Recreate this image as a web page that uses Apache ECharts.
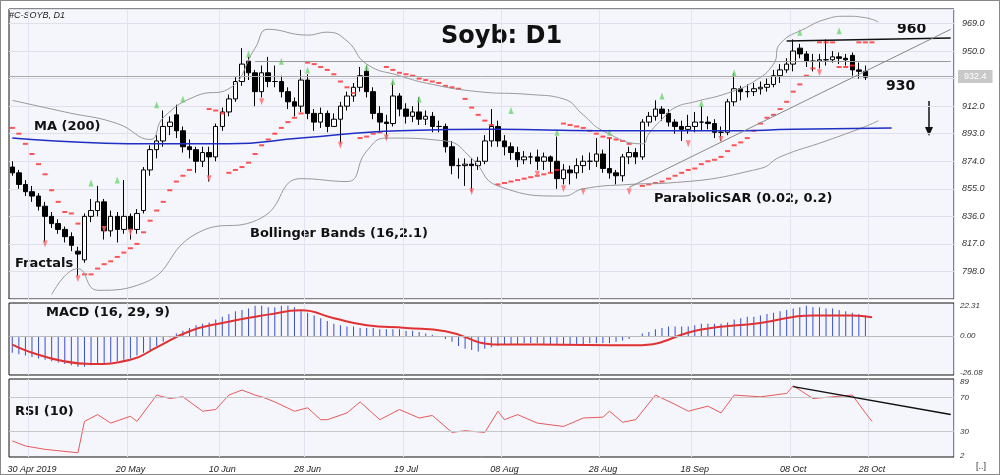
<!DOCTYPE html>
<html>
<head>
<meta charset="utf-8">
<script src="https://cdn.jsdelivr.net/npm/echarts@6/dist/echarts.min.js"></script>
<style>html,body{margin:0;padding:0;background:#fff}#c{width:1000px;height:475px;box-sizing:border-box;border:1px solid #888}</style>
</head>
<body>
<div id="c"></div>
<script>
// daily bars
var opens = [870,866,858,853,850,843,836,831,827,822, 812,806,836,840,846,826,836,827,836,827,
  840,868,882,888,898,906,895,884,882,874, 880,877,898,908,917,929,943,935,922,935,
  929,929,922,915,912,930,907,901,907,898, 903,912,919,925,936,922,907,901,900,919,
  910,905,908,903,905,898,898,884,871,871, 872,871,874,888,898,888,884,880,875,877,
  877,874,877,874,862,868,866,871,874,874, 879,869,866,864,877,880,877,901,905,910,
  907,901,898,896,898,901,901,900,894,894, 915,924,922,922,924,925,927,933,937,941,
  952,948,943,943,944,944,946,945,947,937, 936];
var closes = [866,858,853,850,843,836,831,827,822,816, 810,836,840,846,826,836,827,836,827,838,
  868,882,888,898,901,895,884,882,874,880, 877,898,908,917,929,941,935,922,935,929,
  929,922,915,912,930,907,901,907,898,903, 912,919,925,933,922,907,901,900,919,910,
  905,908,903,905,898,898,884,871,871,872, 871,874,888,898,888,884,880,875,877,877,
  874,877,874,862,868,866,871,874,874,879, 869,866,864,877,880,877,901,905,910,907,
  901,898,896,898,901,901,900,894,894,915, 924,922,922,924,925,927,933,937,941,950,
  948,943,943,944,944,946,945,944,937,936, 932];
var highs = [874,868,861,857,852,846,839,834,829,825, 815,838,848,857,848,840,839,861,838,841,
  870,885,892,909,905,913,898,889,884,884, 884,900,911,920,932,952,946,937,940,946,
  940,933,925,918,937,934,910,911,909,907, 915,922,928,939,940,925,912,906,929,921,
  914,912,918,909,908,902,900,888,876,876, 876,877,892,910,902,892,887,884,881,880,
  882,880,878,891,872,871,876,878,880,890, 882,890,868,879,884,883,903,908,916,912,
  910,903,902,906,908,912,905,903,898,917, 935,926,927,928,929,931,937,941,945,958,
  955,950,948,948,958,950,949,948,949,942, 940];
var lows = [864,855,850,846,840,818,828,824,818,812, 795,804,832,836,820,822,818,824,820,824,
  838,864,876,884,892,890,880,876,866,870, 860,874,895,905,915,926,930,912,918,925,
  925,918,910,905,908,903,895,897,894,898, 886,909,915,922,918,903,895,889,898,905,
  900,901,899,899,894,894,880,865,862,857, 853,868,872,884,884,878,875,870,872,872,
  868,868,866,855,858,858,862,866,868,870, 866,862,858,860,872,872,875,898,902,902,
  898,893,888,893,894,895,896,890,888,892, 912,916,918,919,920,922,925,928,935,936,
  945,939,936,938,940,942,941,940,933,931, 930];

var dateLabels = {3:'30 Apr 2019',18:'20 May',32:'10 Jun',45:'28 Jun',60:'19 Jul',75:'08 Aug',
  90:'28 Aug',104:'18 Sep',119:'08 Oct',131:'28 Oct'};
var slots = 144;

var ma200 = [[0,890],[21,886],[33,886],[44,890],[59,895],[74,896],[89,895],[109,895],[119,896],[134,897]];
var bbUpper = [[0,916],[8,908],[16,900],[21,889],[23,904],[28,919],[33,924],[37,952],[39,965],[45,961],
  [48,963],[51,957],[54,941],[59,933],[64,927],[71,922],[79,920],[84,917],[87,906],[90,895],[96,886],
  [97,893],[99,903],[101,911],[104,915],[109,921],[113,929],[116,941],[117,955],[121,966],[124,972],
  [127,974],[130,973],[132,970]];
var bbLower = [[6,782],[10,800],[13,785],[20,790],[28,824],[38,835],[44,862],[51,860],[54,881],[57,890],
  [66,888],[70,876],[74,857],[84,850],[87,855],[94,858],[100,859],[114,869],[117,877],[124,888],
  [130,898],[132,902]];
var sar = [[0,897],[1,893],[2,886],[3,879],[4,872],[5,865],[6,854],[7,846],[8,839],[9,838],[10,831],
  [11,796],[12,796],[13,800],[14,803],[15,805],[16,808],[17,811],[18,814],[19,817],[20,825],[21,833],
  [22,840],[23,846],[24,854],[25,860],[26,864],[27,868],[30,910],[31,909],[32,907],
  [33,866],[34,868],[35,870],[36,873],[37,879],[38,885],[39,889],[40,893],[41,897],[42,901],[43,904],[44,907],
  [45,942],[46,941],[47,939],[48,937],[49,934],[50,929],[51,925],[52,921],
  [53,890],[54,891],[55,893],[56,894],
  [57,939],[58,937],[59,935],[60,934],[61,933],[62,931],[63,930],[64,929],[65,928],[66,926],[67,925],
  [68,924],[69,917],[70,911],[71,906],[72,902],[73,899],
  [74,858],[75,859],[76,860],[77,861],[78,862],[79,863],[80,864],[81,865],[82,866],[83,868],
  [84,900],[85,899],[86,898],[87,897],[88,895],[89,893],[90,891],[91,890],[92,889],[93,888],[94,886],
  [96,857],[97,858],[98,859],[99,860],[100,862],[101,864],[102,866],[103,868],[104,869],[105,872],
  [106,874],[107,875],[108,877],[109,881],[110,885],[111,887],[112,890],[113,895],[114,900],[115,904],
  [116,906],[117,910],[118,915],[119,922],[120,927],[121,933],[122,938],
  [123,956],[124,956],[125,956],[126,939],[127,939],[128,940],[129,956],[130,956],[131,956]];
var fractalUp = [[12,859],[16,861],[22,913],[26,917],[36,948],[41,943],[45,937],[54,939],[58,929],
  [62,917],[76,909],[83,894],[91,894],[99,919],[105,914],[110,935],[120,963],[126,964]];
var fractalDown = [[5,817],[10,793],[14,827],[18,825],[30,862],[38,915],[50,885],[57,890],[70,853],
  [80,865],[84,855],[87,853],[94,853],[103,886],[108,889],[123,935]];

var macdHist = [-12,-13,-14,-15,-16,-17,-18,-19,-20,-21, -22,-22,-21,-20,-20,-19,-18,-17,-16,-14,
  -12,-10,-7,-4,-1,2,4,6,8,9, 10,12,14,16,18,19,20,22,22,21,
  21,22,22,21,19,17,15,13,11,9, 8,7,7,6,6,6,5,5,5,5,
  4,4,3,2,1,0,-2,-4,-7,-9, -10,-11,-9,-8,-7,-6,-6,-6,-5,-5,
  -5,-6,-6,-6,-6,-6,-6,-6,-5,-5, -5,-5,-4,-3,-2,0,2,3,5,6,
  7,7,7,7,8,9,9,9,9,10, 12,13,14,14,15,16,17,18,19,20,
  21,22,21,21,20,20,19,18,17,16, 15];
var macdSignal = [[0,-6],[12,-20],[18,-17],[22,-8],[27,3.6],[32,9.6],[39,15.6],[44,18.7],[49,13],
  [54,8],[60,6],[66,3.6],[74,-6],[80,-6],[95,-6.5],[105,4.8],[114,9.6],[122,15],[128,15],[131,13.7]];
var rsi = [[0,19],[2,13],[5,9],[10,5],[11,42],[13,50],[15,40],[18,48],[19,42],[22,73],[24,69],[26,71],
  [29,54],[31,56],[33,73],[35,79],[37,73],[38,71],[40,65],[43,54],[45,58],[47,44],[48,44],[51,52],
  [53,65],[56,44],[59,56],[62,46],[64,49],[67,29],[69,31],[72,29],[74,54],[75,44],[77,50],[80,40],
  [84,36],[87,46],[90,47],[91,54],[93,41],[95,44],[98,73],[101,62],[103,54],[106,60],[108,52],
  [110,73],[114,71],[118,75],[119,84],[122,69],[128,73],[130,52],[131,42]];

var cats = [], candles = [];
for (var i = 0; i < slots; i++) cats.push(i);
for (var j = 0; j < closes.length; j++) candles.push([opens[j], closes[j], lows[j], highs[j]]);

function showDate(idx) { return dateLabels[idx] !== undefined; }
function xAxisFor(gi, labels) {
  return {
    type: 'category', gridIndex: gi, data: cats, boundaryGap: true,
    axisLine: { show: false }, axisTick: { show: false },
    axisLabel: { show: labels, interval: function(idx) { return showDate(idx); },
      formatter: function(v) { return dateLabels[v] || ''; },
      fontSize: 9, fontStyle: 'italic', color: '#222', margin: 8 },
    splitLine: { show: true, interval: function(idx) { return showDate(idx); },
      lineStyle: { color: '#e2e2f0' } }
  };
}
var hide = { show: false };
var clear = { color: 'rgba(0,0,0,0)', width: 1, type: 'solid' };
var paneLabel = { show: true, position: 'end', fontSize: 8, fontStyle: 'italic', color: '#333', distance: 6 };

var chart = echarts.init(document.getElementById('c'));
chart.setOption({
  animation: false,
  backgroundColor: '#fff',
  grid: [
    { left: 8, right: 45, top: 8, height: 290, show: true, backgroundColor: '#f5f5fc', borderColor: '#111' },
    { left: 8, right: 45, top: 302, height: 72, show: true, backgroundColor: '#f5f5fc', borderColor: '#111' },
    { left: 8, right: 45, top: 378, height: 78, show: true, backgroundColor: '#f5f5fc', borderColor: '#111' }
  ],
  xAxis: [xAxisFor(0, false), xAxisFor(1, false), xAxisFor(2, true)],
  yAxis: [
    { gridIndex: 0, position: 'right', min: 779, max: 979, interval: 19, scale: true,
      axisLine: hide, axisTick: hide,
      axisLabel: { fontSize: 9, fontStyle: 'italic', color: '#333', showMaxLabel: false,
        formatter: function(v) { return (v === 779 || v === 979) ? '' : v.toFixed(1); } },
      splitLine: { lineStyle: { color: '#dedeec' } } },
    { gridIndex: 1, position: 'right', min: -28, max: 24,
      axisLine: hide, axisTick: hide, axisLabel: hide, splitLine: hide },
    { gridIndex: 2, position: 'right', min: 0, max: 92,
      axisLine: hide, axisTick: hide, axisLabel: hide, splitLine: hide }
  ],
  series: [
    { type: 'line', name: 'BBupper', data: bbUpper, smooth: true, symbol: 'none',
      lineStyle: { color: '#999', width: 1 } },
    { type: 'line', name: 'BBlower', data: bbLower, smooth: true, symbol: 'none',
      lineStyle: { color: '#999', width: 1 } },
    { type: 'line', name: 'MA200', data: ma200, smooth: true, symbol: 'none',
      lineStyle: { color: '#1f2fc4', width: 1.5 } },
    { type: 'candlestick', name: 'price', data: candles, barWidth: 5,
      itemStyle: { color: '#fff', color0: '#000', borderColor: '#000', borderColor0: '#000', borderWidth: 1 },
      markLine: { silent: true, symbol: 'none', animation: false,
        data: [
          { yAxis: 932.4, lineStyle: { color: '#aaa', width: 1, type: 'solid' },
            label: { position: 'end', formatter: '932.4', backgroundColor: '#c8c8c8', color: '#fff',
              padding: [2, 6], fontSize: 9, distance: 4 } },
          [{ coord: [37, 943], lineStyle: { color: '#999', width: 1, type: 'solid' }, label: hide },
           { coord: [143, 943] }],
          [{ coord: [118, 957], lineStyle: { color: '#111', width: 1.5, type: 'solid' }, label: hide },
           { coord: [143, 959] }],
          [{ coord: [94, 856], lineStyle: { color: '#888', width: 1, type: 'solid' }, label: hide },
           { coord: [143, 965] }]
        ] } },
    { type: 'scatter', name: 'SAR', data: sar, symbol: 'rect', symbolSize: [5, 2],
      itemStyle: { color: '#ff2a2a' } },
    { type: 'scatter', name: 'FractalUp', data: fractalUp, symbol: 'triangle', symbolSize: [5, 7],
      itemStyle: { color: '#6bd66b' } },
    { type: 'scatter', name: 'FractalDown', data: fractalDown, symbol: 'triangle', symbolSize: [5, 7],
      symbolRotate: 180, itemStyle: { color: '#ff6a6a' } },
    { type: 'bar', name: 'MACD', xAxisIndex: 1, yAxisIndex: 1, data: macdHist, barWidth: 1,
      itemStyle: { color: '#3a4fd0' },
      markLine: { silent: true, symbol: 'none', label: paneLabel,
        data: [
          { yAxis: 22.31, lineStyle: clear, label: { formatter: '22.31' } },
          { yAxis: 0, lineStyle: { color: '#bbb', type: 'solid', width: 1 }, label: { formatter: '0.00' } },
          { yAxis: -26.08, lineStyle: clear, label: { formatter: '-26.08' } }
        ] } },
    { type: 'line', name: 'Signal', xAxisIndex: 1, yAxisIndex: 1, data: macdSignal, smooth: true,
      symbol: 'none', lineStyle: { color: '#e03232', width: 2 } },
    { type: 'line', name: 'RSI', xAxisIndex: 2, yAxisIndex: 2, data: rsi, symbol: 'none',
      lineStyle: { color: '#e85a5a', width: 1 },
      markLine: { silent: true, symbol: 'none', label: paneLabel,
        data: [
          { yAxis: 89, lineStyle: clear, label: { formatter: '89' } },
          { yAxis: 70, lineStyle: { color: '#c8c8c8', type: 'solid', width: 1 }, label: { formatter: '70' } },
          { yAxis: 30, lineStyle: { color: '#c8c8c8', type: 'solid', width: 1 }, label: { formatter: '30' } },
          { yAxis: 2, lineStyle: clear, label: { formatter: '2' } },
          [{ coord: [119, 83], lineStyle: { color: '#111', width: 1.5, type: 'solid' }, label: hide },
           { coord: [143, 50] }]
        ] } }
  ],
  graphic: [
    { type: 'text', left: 8, top: 10, style: { text: '#C-SOYB, D1', fontSize: 9, fontStyle: 'italic', fill: '#222' } },
    { type: 'text', left: 440, top: 24, style: { text: 'Soyb: D1', fontSize: 24, fontWeight: 'bold', fill: '#111', fontFamily: 'Verdana, DejaVu Sans' } },
    { type: 'text', left: 33, top: 119, style: { text: 'MA (200)', fontSize: 13, fontWeight: 'bold', fill: '#111', fontFamily: 'DejaVu Sans' } },
    { type: 'text', left: 14, top: 256, style: { text: 'Fractals', fontSize: 13, fontWeight: 'bold', fill: '#111', fontFamily: 'DejaVu Sans' } },
    { type: 'text', left: 249, top: 226, style: { text: 'Bollinger Bands (16,2.1)', fontSize: 13, fontWeight: 'bold', fill: '#111', fontFamily: 'DejaVu Sans' } },
    { type: 'text', left: 653, top: 191, style: { text: 'ParabolicSAR (0.02, 0.2)', fontSize: 13, fontWeight: 'bold', fill: '#111', fontFamily: 'DejaVu Sans' } },
    { type: 'text', left: 896, top: 21, style: { text: '960', fontSize: 14, fontWeight: 'bold', fill: '#111', fontFamily: 'DejaVu Sans' } },
    { type: 'text', left: 885, top: 78, style: { text: '930', fontSize: 14, fontWeight: 'bold', fill: '#111', fontFamily: 'DejaVu Sans' } },
    { type: 'text', left: 45, top: 305, style: { text: 'MACD (16, 29, 9)', fontSize: 13, fontWeight: 'bold', fill: '#111', fontFamily: 'DejaVu Sans' } },
    { type: 'text', left: 14, top: 404, style: { text: 'RSI (10)', fontSize: 13, fontWeight: 'bold', fill: '#111', fontFamily: 'DejaVu Sans' } },
    { type: 'line', shape: { x1: 928, y1: 100, x2: 928, y2: 132 }, style: { stroke: '#111', lineWidth: 1.5 } },
    { type: 'polygon', shape: { points: [[924, 126], [932, 126], [928, 135]] }, style: { fill: '#111' } },
    { type: 'text', left: 975, top: 461, style: { text: '[..]', fontSize: 9, fill: '#333' } }
  ]
});
</script>
</body>
</html>
